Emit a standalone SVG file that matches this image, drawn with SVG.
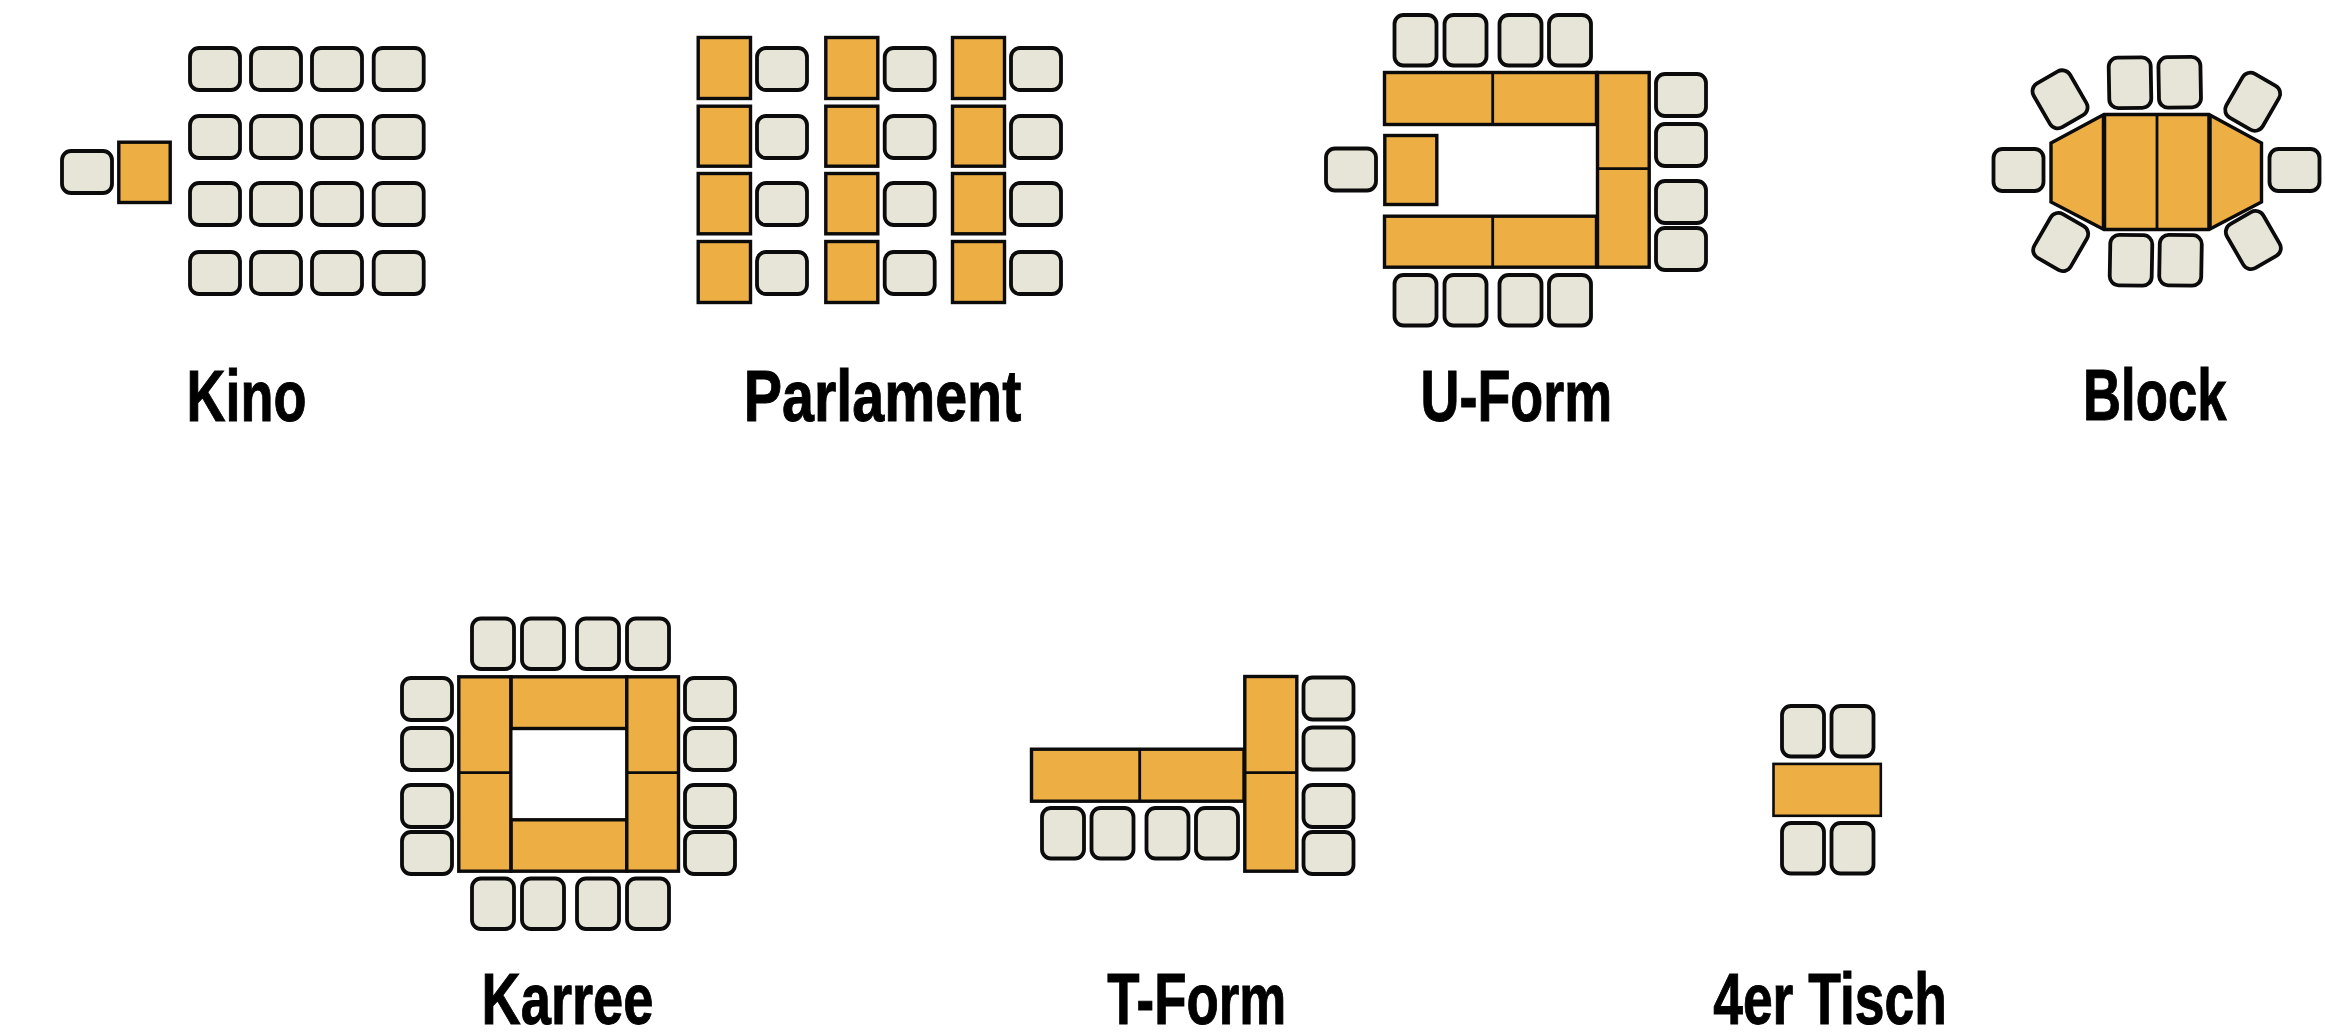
<svg xmlns="http://www.w3.org/2000/svg" width="2325" height="1032" viewBox="0 0 2325 1032">
<style>
.t{fill:#edae44;stroke:#0b0b0b;stroke-width:3.4}
.c{fill:#e7e5d8;stroke:#0b0b0b;stroke-width:3.8;stroke-linejoin:round}
.d{stroke:#0b0b0b;stroke-width:2.8;fill:none}
.l{font-family:"Liberation Sans Narrow","Liberation Sans",sans-serif;font-weight:700;font-size:73px;fill:#000;stroke:#000;stroke-width:1}
</style>
<defs>
<rect id="h" class="c" x="2" y="2" width="50" height="42" rx="9"/>
<rect id="v" class="c" x="2" y="2" width="42" height="50.5" rx="9"/>
</defs>
<rect width="2325" height="1032" fill="#fff"/>
<g id="kino">
<use href="#h" x="60" y="149"/>
<rect class="t" x="118.8" y="142.2" width="51.4" height="60.3"/>
<use href="#h" x="188" y="46"/><use href="#h" x="249" y="46"/><use href="#h" x="310" y="46"/><use href="#h" x="371.7" y="46"/>
<use href="#h" x="188" y="114"/><use href="#h" x="249" y="114"/><use href="#h" x="310" y="114"/><use href="#h" x="371.7" y="114"/>
<use href="#h" x="188" y="181"/><use href="#h" x="249" y="181"/><use href="#h" x="310" y="181"/><use href="#h" x="371.7" y="181"/>
<use href="#h" x="188" y="250"/><use href="#h" x="249" y="250"/><use href="#h" x="310" y="250"/><use href="#h" x="371.7" y="250"/>
<text class="l" x="186.5" y="420.5" textLength="120" lengthAdjust="spacingAndGlyphs">Kino</text>
</g>
<g id="parlament">
<rect class="t" x="698.2" y="37.5" width="52.3" height="61"/><rect class="t" x="698.2" y="106.2" width="52.3" height="60"/><rect class="t" x="698.2" y="173.5" width="52.3" height="60.3"/><rect class="t" x="698.2" y="241.5" width="52.3" height="61"/>
<rect class="t" x="825.8" y="37.5" width="52" height="61"/><rect class="t" x="825.8" y="106.2" width="52" height="60"/><rect class="t" x="825.8" y="173.5" width="52" height="60.3"/><rect class="t" x="825.8" y="241.5" width="52" height="61"/>
<rect class="t" x="952.5" y="37.5" width="52" height="61"/><rect class="t" x="952.5" y="106.2" width="52" height="60"/><rect class="t" x="952.5" y="173.5" width="52" height="60.3"/><rect class="t" x="952.5" y="241.5" width="52" height="61"/>
<use href="#h" x="755" y="46"/><use href="#h" x="755" y="114"/><use href="#h" x="755" y="181"/><use href="#h" x="755" y="250"/>
<use href="#h" x="882.7" y="46"/><use href="#h" x="882.7" y="114"/><use href="#h" x="882.7" y="181"/><use href="#h" x="882.7" y="250"/>
<use href="#h" x="1009" y="46"/><use href="#h" x="1009" y="114"/><use href="#h" x="1009" y="181"/><use href="#h" x="1009" y="250"/>
<text class="l" x="743.8" y="420.5" textLength="277.5" lengthAdjust="spacingAndGlyphs">Parlament</text>
</g>
<g id="u-form">
<use href="#v" x="1392.5" y="13"/><use href="#v" x="1442.5" y="13"/><use href="#v" x="1497.5" y="13"/><use href="#v" x="1547" y="13"/>
<use href="#v" x="1392.5" y="273"/><use href="#v" x="1442.5" y="273"/><use href="#v" x="1497.5" y="273"/><use href="#v" x="1547" y="273"/>
<use href="#h" x="1324" y="146.5"/>
<use href="#h" x="1654" y="72"/><use href="#h" x="1654" y="122"/><use href="#h" x="1654" y="179"/><use href="#h" x="1654" y="226"/>
<rect class="t" x="1384.5" y="72.5" width="212" height="52"/>
<rect class="t" x="1384.5" y="216.2" width="212" height="51"/>
<rect class="t" x="1597.5" y="72.5" width="51.7" height="194.7"/>
<rect class="t" x="1384.8" y="135.5" width="52" height="69"/>
<path class="d" d="M1492.7 73V124M1492.7 217V267M1598 168.7H1649"/>
<text class="l" x="1420.5" y="420.5" textLength="191.7" lengthAdjust="spacingAndGlyphs">U-Form</text>
</g>
<g id="block">
<use href="#v" x="2107" y="55.5" transform="rotate(-1 2130 83)"/><use href="#v" x="2156.7" y="55" transform="rotate(-1 2180 82)"/>
<use href="#v" x="2108" y="233" transform="rotate(1 2131 260)"/><use href="#v" x="2157.5" y="233" transform="rotate(1 2180 260)"/>
<use href="#h" x="1991.5" y="147"/><use href="#h" x="2267.5" y="147"/>
<use href="#v" transform="translate(2060 99.3) rotate(-30) translate(-23 -27.2)"/>
<use href="#v" transform="translate(2252.7 101.7) rotate(30) translate(-23 -27.2)"/>
<use href="#v" transform="translate(2060.7 242) rotate(30) translate(-23 -27.2)"/>
<use href="#v" transform="translate(2253.3 240) rotate(-30) translate(-23 -27.2)"/>
<polygon class="t" points="2051,143 2104,114.5 2209,114.5 2261.5,143 2261.5,202 2209,229.5 2104,229.5 2051,202"/>
<path class="d" style="stroke-width:4.5" d="M2104 114.5V229.5M2209.5 114.5V229.5"/>
<path class="d" d="M2157 114.5V229.5"/>
<text class="l" x="2083" y="420" textLength="143.5" lengthAdjust="spacingAndGlyphs">Block</text>
</g>
<g id="karree">
<use href="#v" x="470" y="616.5"/><use href="#v" x="520" y="616.5"/><use href="#v" x="575" y="616.5"/><use href="#v" x="625" y="616.5"/>
<use href="#v" x="470" y="876.5"/><use href="#v" x="520" y="876.5"/><use href="#v" x="575" y="876.5"/><use href="#v" x="625" y="876.5"/>
<use href="#h" x="400" y="676"/><use href="#h" x="400" y="726"/><use href="#h" x="400" y="783"/><use href="#h" x="400" y="830"/>
<use href="#h" x="683" y="676"/><use href="#h" x="683" y="726"/><use href="#h" x="683" y="783"/><use href="#h" x="683" y="830"/>
<rect class="t" x="511" y="676.8" width="115.8" height="51.7"/>
<rect class="t" x="511" y="819.8" width="115.8" height="51.4"/>
<rect class="t" x="458.8" y="676.8" width="52" height="194.4"/>
<rect class="t" x="626.8" y="676.8" width="51.7" height="194.4"/>
<path class="d" d="M459 772.7H510.5M627 772.7H678.5"/>
<text class="l" x="481.5" y="1023.5" textLength="172" lengthAdjust="spacingAndGlyphs">Karree</text>
</g>
<g id="t-form">
<use href="#v" x="1040" y="806"/><use href="#v" x="1089.5" y="806"/><use href="#v" x="1144.5" y="806"/><use href="#v" x="1194" y="806"/>
<use href="#h" x="1301.5" y="675.5"/><use href="#h" x="1301.5" y="725.5"/><use href="#h" x="1301.5" y="783"/><use href="#h" x="1301.5" y="830"/>
<rect class="t" x="1031.5" y="749.2" width="212.5" height="52"/>
<rect class="t" x="1244.8" y="676.5" width="52" height="194.7"/>
<path class="d" d="M1139.7 750V801M1245 772.7H1296.5"/>
<text class="l" x="1107.2" y="1023.5" textLength="179" lengthAdjust="spacingAndGlyphs">T-Form</text>
</g>
<g id="vierer-tisch">
<use href="#v" x="1780" y="704"/><use href="#v" x="1829.5" y="704"/>
<use href="#v" x="1780" y="821"/><use href="#v" x="1829.5" y="821"/>
<rect class="t" style="stroke-width:2.6" x="1773.5" y="763.9" width="107.3" height="51.9"/>
<text class="l" x="1713.2" y="1023.5" textLength="233.6" lengthAdjust="spacingAndGlyphs">4er Tisch</text>
</g>
</svg>
